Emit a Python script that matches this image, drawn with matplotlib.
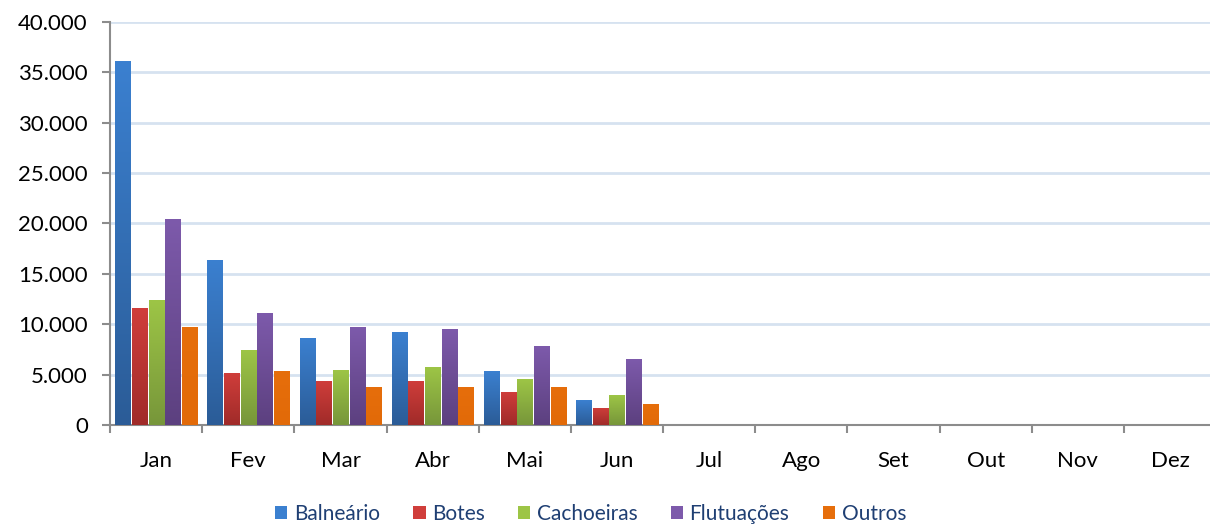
import numpy as np
import matplotlib.pyplot as plt
from matplotlib.ticker import FuncFormatter, FixedLocator
from matplotlib.colors import LinearSegmentedColormap

meses = ['Jan', 'Fev', 'Mar', 'Abr', 'Mai', 'Jun', 'Jul', 'Ago', 'Set', 'Out', 'Nov', 'Dez']
series = ['Balneário', 'Botes', 'Cachoeiras', 'Flutuações', 'Outros']
balneario = [36100, 16400, 8600, 9200, 5350, 2450, 0, 0, 0, 0, 0, 0]
botes = [11600, 5200, 4400, 4400, 3300, 1700, 0, 0, 0, 0, 0, 0]
cachoeiras = [12400, 7400, 5450, 5750, 4550, 2950, 0, 0, 0, 0, 0, 0]
flutuacoes = [20400, 11100, 9700, 9500, 7800, 6500, 0, 0, 0, 0, 0, 0]
outros = [9750, 5350, 3800, 3800, 3800, 2100, 0, 0, 0, 0, 0, 0]

# cor de cima / cor de baixo (gradiente das barras)
cores_topo = ['#3B80D0', '#D03E3B', '#9DC546', '#7D5AAB', '#E66E0B']
cores_base = ['#2B5C97', '#A02B29', '#77963A', '#5C407F', '#E26A08']

plt.rcParams['font.family'] = ['Lato', 'DejaVu Sans']

fig = plt.figure(figsize=(12.1, 5.24), dpi=100)
# o eixo passa um pouco da borda direita, como no original
ax = fig.add_axes([0.091, 0.189, 0.914, 0.769])

x = np.arange(len(meses))
passo = 0.181
largura = 0.165
dados = [balneario, botes, cachoeiras, flutuacoes, outros]
grad = np.linspace(0, 1, 256).reshape(-1, 1)
for i, (nome, vals) in enumerate(zip(series, dados)):
    barras = ax.bar(x + (i - 2) * passo, vals, width=largura, color=cores_topo[i], label=nome, zorder=3)
    cmap = LinearSegmentedColormap.from_list('g%d' % i, [cores_base[i], cores_topo[i]])
    for b in barras:
        x0, y0 = b.get_x(), b.get_y()
        w, h = b.get_width(), b.get_height()
        if h <= 0:
            continue
        im = ax.imshow(grad, extent=[x0, x0 + w, y0, y0 + h], origin='lower', aspect='auto',
                       cmap=cmap, zorder=3.5)
        im.set_clip_path(b)

ax.set_ylim(0, 40000)
ax.set_xlim(-0.5, len(meses) - 0.5)
ax.set_yticks(np.arange(0, 40001, 5000))
ax.yaxis.set_major_formatter(FuncFormatter(lambda v, p: '{:,.0f}'.format(v).replace(',', '.')))
ax.grid(axis='y', color='#D6E2F0', linewidth=2, zorder=0)

ax.set_xticks(x)
ax.set_xticklabels(meses)
ax.xaxis.set_minor_locator(FixedLocator(np.arange(-0.5, len(meses), 1.0)))
ax.tick_params(axis='x', which='major', length=0, pad=18.5, labelsize=16)
ax.tick_params(axis='x', which='minor', length=6, width=1.5, color='#8C8C8C')
ax.tick_params(axis='y', length=6, width=1.5, color='#8C8C8C', labelsize=16, pad=10)

for s in ['top', 'right']:
    ax.spines[s].set_visible(False)
for s in ['left', 'bottom']:
    ax.spines[s].set_color('#8C8C8C')
    ax.spines[s].set_linewidth(1.5)

leg = fig.legend(loc='lower center', bbox_to_anchor=(0.488, -0.036), ncol=5, frameon=False,
                 fontsize=15, handlelength=0.6, handleheight=0.6, handletextpad=0.3, columnspacing=1.6)
for t in leg.get_texts():
    t.set_color('#1F3F73')

fig.savefig('out.png', dpi=100)
